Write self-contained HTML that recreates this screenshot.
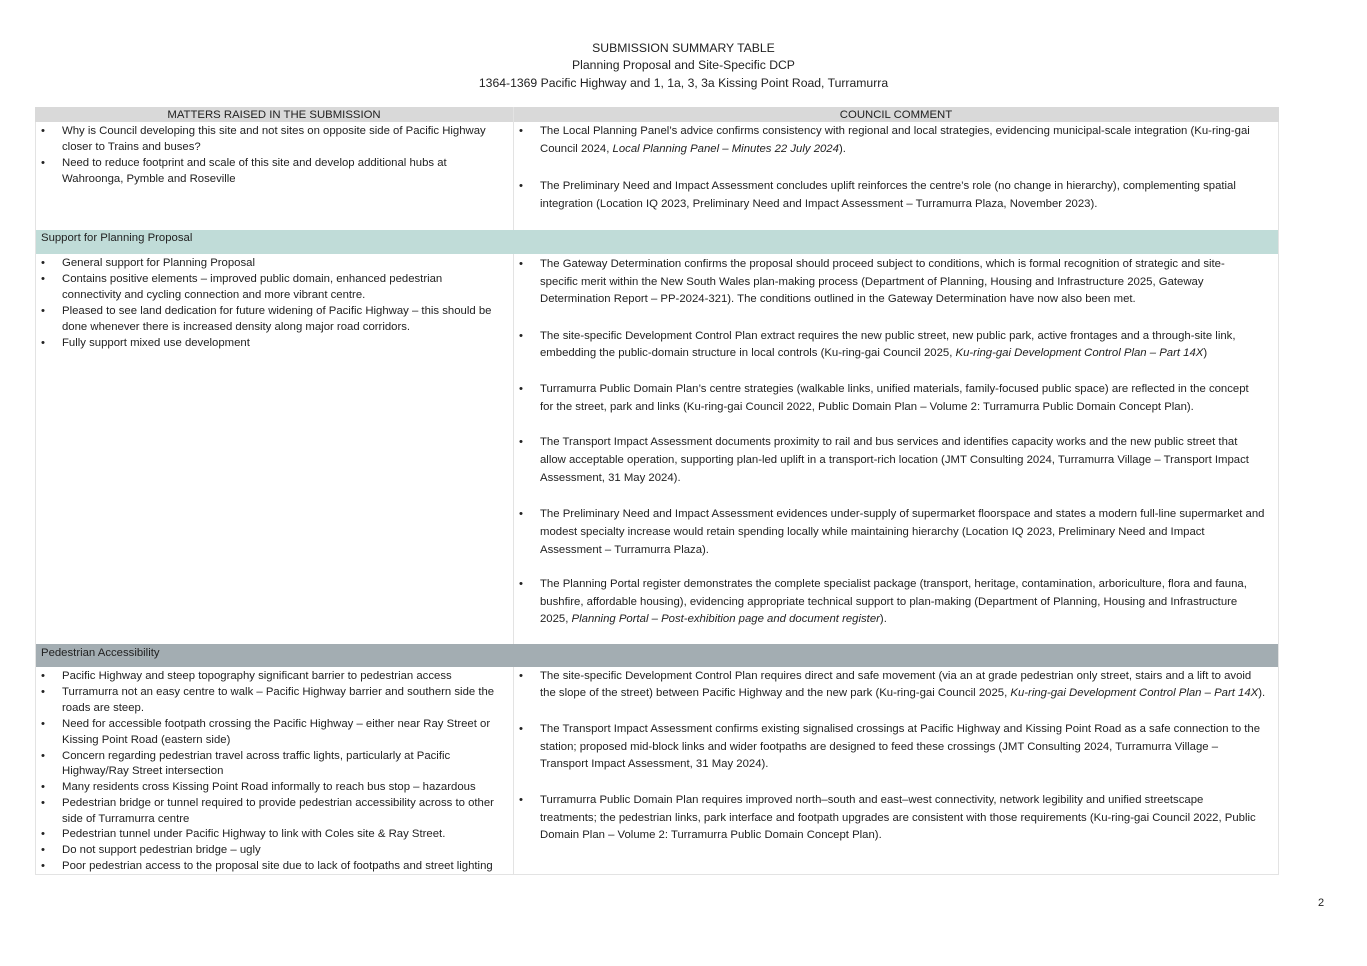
<!DOCTYPE html>
<html><head><meta charset="utf-8"><style>
body{margin:0;background:#fff;}
#p{position:relative;width:1367px;height:966px;overflow:hidden;font-family:"Liberation Sans",sans-serif;font-size:11.35px;color:#222;}
#p div{position:absolute;white-space:nowrap;line-height:16px;}
.c{text-align:center;}
i{font-style:italic;}
</style></head><body><div id="p">
<div class="c" style="left:0;width:1367px;top:40px;font-size:12.2px">SUBMISSION SUMMARY TABLE</div>
<div class="c" style="left:0;width:1367px;top:57px;font-size:12.2px">Planning Proposal and Site-Specific DCP</div>
<div class="c" style="left:0;width:1367px;top:75px;font-size:12.2px">1364-1369 Pacific Highway and 1, 1a, 3, 3a Kissing Point Road, Turramurra</div>

<div style="left:35px;top:107px;width:1244px;height:15px;background:#d9d9d9"></div>
<div style="left:35px;top:230px;width:1244px;height:24px;background:#c0dcd8"></div>
<div style="left:35px;top:644px;width:1244px;height:23px;background:#a3adb2"></div>
<div style="left:35px;top:122px;width:0;height:753px;border-left:1px solid #e3e3e3"></div>
<div style="left:1278px;top:122px;width:0;height:753px;border-left:1px solid #e3e3e3"></div>
<div style="left:513px;top:107px;width:0;height:123px;border-left:1px solid #e3e3e3"></div>
<div style="left:513px;top:254px;width:0;height:390px;border-left:1px solid #e3e3e3"></div>
<div style="left:513px;top:667px;width:0;height:208px;border-left:1px solid #e3e3e3"></div>
<div style="left:35px;top:874px;width:1244px;height:0;border-top:1px solid #e3e3e3"></div>

<div class="c" style="left:35px;width:478px;top:107px;line-height:16px">MATTERS RAISED IN THE SUBMISSION</div>
<div class="c" style="left:513px;width:766px;top:107px">COUNCIL COMMENT</div>
<div style="left:41px;top:229px;line-height:18px">Support for Planning Proposal</div>
<div style="left:41px;top:644px;line-height:18px">Pedestrian Accessibility</div>

<div style="left:41px;top:123px">•</div><div style="left:62px;top:123px">Why is Council developing this site and not sites on opposite side of Pacific Highway</div>
<div style="left:62px;top:139px">closer to Trains and buses?</div>
<div style="left:41px;top:155px">•</div><div style="left:62px;top:155px">Need to reduce footprint and scale of this site and develop additional hubs at</div>
<div style="left:62px;top:171px">Wahroonga, Pymble and Roseville</div>

<div style="left:519px;top:123px">•</div><div style="left:540px;top:123px">The Local Planning Panel’s advice confirms consistency with regional and local strategies, evidencing municipal-scale integration (Ku-ring-gai</div>
<div style="left:540px;top:141px">Council 2024, <i>Local Planning Panel – Minutes 22 July 2024</i>).</div>
<div style="left:519px;top:178px">•</div><div style="left:540px;top:178px">The Preliminary Need and Impact Assessment concludes uplift reinforces the centre’s role (no change in hierarchy), complementing spatial</div>
<div style="left:540px;top:196px">integration (Location IQ 2023, Preliminary Need and Impact Assessment – Turramurra Plaza, November 2023).</div>

<div style="left:41px;top:255px">•</div><div style="left:62px;top:255px">General support for Planning Proposal</div>
<div style="left:41px;top:271px">•</div><div style="left:62px;top:271px">Contains positive elements – improved public domain, enhanced pedestrian</div>
<div style="left:62px;top:287px">connectivity and cycling connection and more vibrant centre.</div>
<div style="left:41px;top:303px">•</div><div style="left:62px;top:303px">Pleased to see land dedication for future widening of Pacific Highway – this should be</div>
<div style="left:62px;top:319px">done whenever there is increased density along major road corridors.</div>
<div style="left:41px;top:335px">•</div><div style="left:62px;top:335px">Fully support mixed use development</div>

<div style="left:519px;top:256px">•</div><div style="left:540px;top:256px">The Gateway Determination confirms the proposal should proceed subject to conditions, which is formal recognition of strategic and site-</div>
<div style="left:540px;top:274px">specific merit within the New South Wales plan-making process (Department of Planning, Housing and Infrastructure 2025, Gateway</div>
<div style="left:540px;top:291px">Determination Report – PP-2024-321). The conditions outlined in the Gateway Determination have now also been met.</div>
<div style="left:519px;top:328px">•</div><div style="left:540px;top:328px">The site-specific Development Control Plan extract requires the new public street, new public park, active frontages and a through-site link,</div>
<div style="left:540px;top:345px">embedding the public-domain structure in local controls (Ku-ring-gai Council 2025, <i>Ku-ring-gai Development Control Plan – Part 14X</i>)</div>
<div style="left:519px;top:381px">•</div><div style="left:540px;top:381px">Turramurra Public Domain Plan’s centre strategies (walkable links, unified materials, family-focused public space) are reflected in the concept</div>
<div style="left:540px;top:399px">for the street, park and links (Ku-ring-gai Council 2022, Public Domain Plan – Volume 2: Turramurra Public Domain Concept Plan).</div>
<div style="left:519px;top:434px">•</div><div style="left:540px;top:434px">The Transport Impact Assessment documents proximity to rail and bus services and identifies capacity works and the new public street that</div>
<div style="left:540px;top:452px">allow acceptable operation, supporting plan-led uplift in a transport-rich location (JMT Consulting 2024, Turramurra Village – Transport Impact</div>
<div style="left:540px;top:470px">Assessment, 31 May 2024).</div>
<div style="left:519px;top:506px">•</div><div style="left:540px;top:506px">The Preliminary Need and Impact Assessment evidences under-supply of supermarket floorspace and states a modern full-line supermarket and</div>
<div style="left:540px;top:524px">modest specialty increase would retain spending locally while maintaining hierarchy (Location IQ 2023, Preliminary Need and Impact</div>
<div style="left:540px;top:542px">Assessment – Turramurra Plaza).</div>
<div style="left:519px;top:576px">•</div><div style="left:540px;top:576px">The Planning Portal register demonstrates the complete specialist package (transport, heritage, contamination, arboriculture, flora and fauna,</div>
<div style="left:540px;top:594px">bushfire, affordable housing), evidencing appropriate technical support to plan-making (Department of Planning, Housing and Infrastructure</div>
<div style="left:540px;top:611px">2025, <i>Planning Portal – Post-exhibition page and document register</i>).</div>

<div style="left:41px;top:668px">•</div><div style="left:62px;top:668px">Pacific Highway and steep topography significant barrier to pedestrian access</div>
<div style="left:41px;top:684px">•</div><div style="left:62px;top:684px">Turramurra not an easy centre to walk – Pacific Highway barrier and southern side the</div>
<div style="left:62px;top:700px">roads are steep.</div>
<div style="left:41px;top:716px">•</div><div style="left:62px;top:716px">Need for accessible footpath crossing the Pacific Highway – either near Ray Street or</div>
<div style="left:62px;top:732px">Kissing Point Road (eastern side)</div>
<div style="left:41px;top:748px">•</div><div style="left:62px;top:748px">Concern regarding pedestrian travel across traffic lights, particularly at Pacific</div>
<div style="left:62px;top:763px">Highway/Ray Street intersection</div>
<div style="left:41px;top:779px">•</div><div style="left:62px;top:779px">Many residents cross Kissing Point Road informally to reach bus stop – hazardous</div>
<div style="left:41px;top:795px">•</div><div style="left:62px;top:795px">Pedestrian bridge or tunnel required to provide pedestrian accessibility across to other</div>
<div style="left:62px;top:811px">side of Turramurra centre</div>
<div style="left:41px;top:826px">•</div><div style="left:62px;top:826px">Pedestrian tunnel under Pacific Highway to link with Coles site &amp; Ray Street.</div>
<div style="left:41px;top:842px">•</div><div style="left:62px;top:842px">Do not support pedestrian bridge – ugly</div>
<div style="left:41px;top:858px">•</div><div style="left:62px;top:858px">Poor pedestrian access to the proposal site due to lack of footpaths and street lighting</div>

<div style="left:519px;top:668px">•</div><div style="left:540px;top:668px">The site-specific Development Control Plan requires direct and safe movement (via an at grade pedestrian only street, stairs and a lift to avoid</div>
<div style="left:540px;top:685px">the slope of the street) between Pacific Highway and the new park (Ku-ring-gai Council 2025, <i>Ku-ring-gai Development Control Plan – Part 14X</i>).</div>
<div style="left:519px;top:721px">•</div><div style="left:540px;top:721px">The Transport Impact Assessment confirms existing signalised crossings at Pacific Highway and Kissing Point Road as a safe connection to the</div>
<div style="left:540px;top:739px">station; proposed mid-block links and wider footpaths are designed to feed these crossings (JMT Consulting 2024, Turramurra Village –</div>
<div style="left:540px;top:756px">Transport Impact Assessment, 31 May 2024).</div>
<div style="left:519px;top:792px">•</div><div style="left:540px;top:792px">Turramurra Public Domain Plan requires improved north–south and east–west connectivity, network legibility and unified streetscape</div>
<div style="left:540px;top:810px">treatments; the pedestrian links, park interface and footpath upgrades are consistent with those requirements (Ku-ring-gai Council 2022, Public</div>
<div style="left:540px;top:827px">Domain Plan – Volume 2: Turramurra Public Domain Concept Plan).</div>

<div style="left:1318px;top:895px;font-size:11px">2</div>
</div></body></html>
